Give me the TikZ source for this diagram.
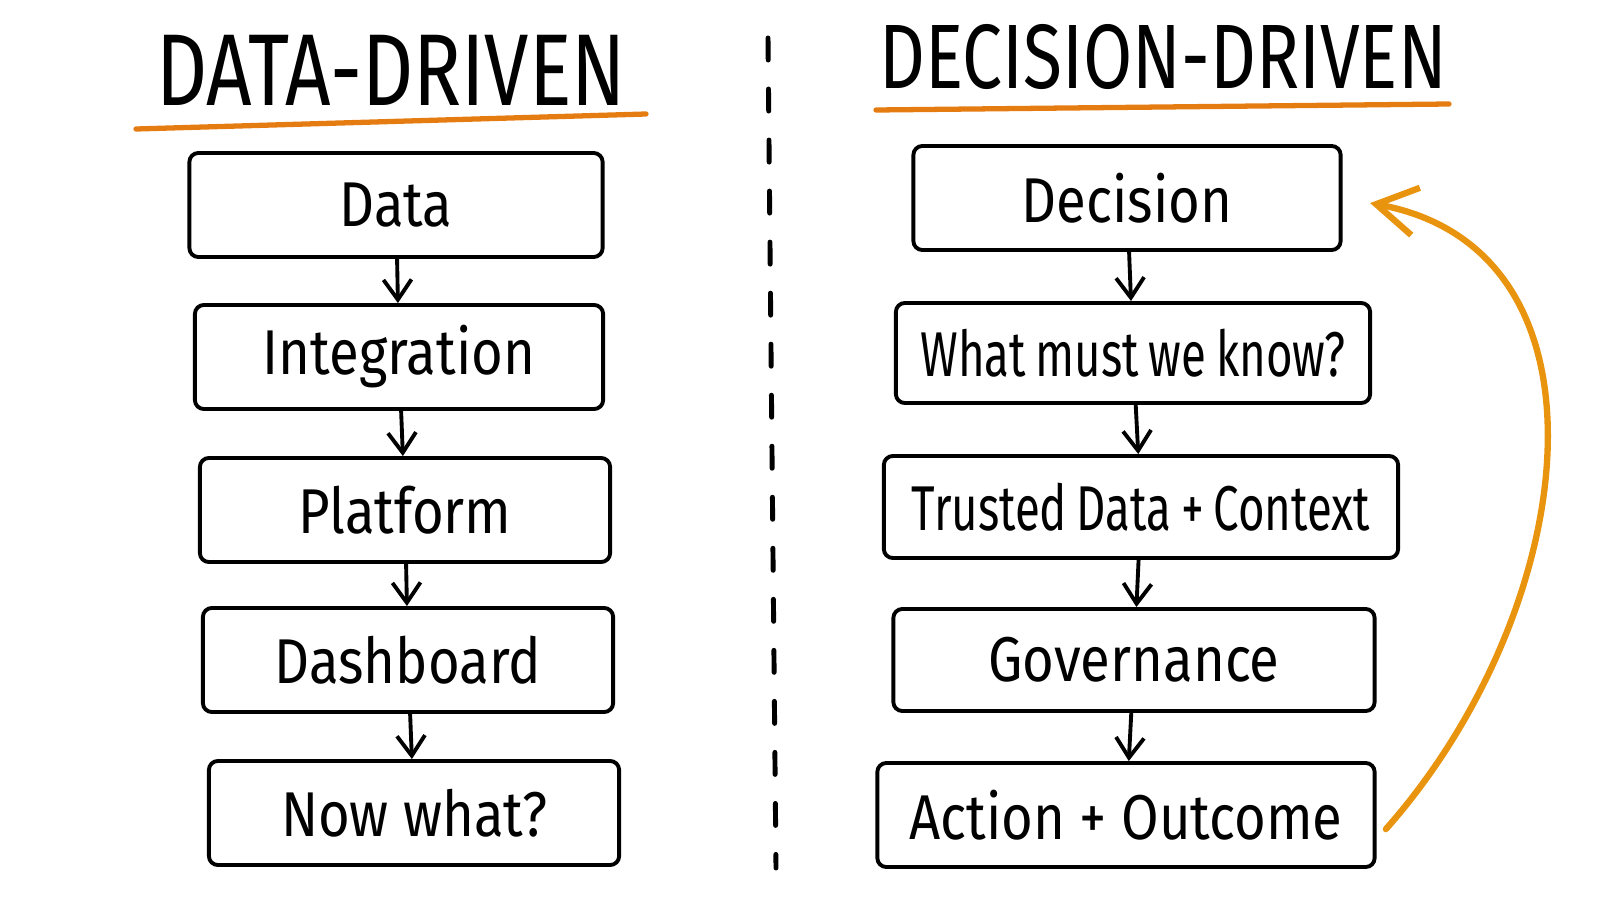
\documentclass[tikz,border=0pt]{standalone}
\usepackage{fontspec}
\setmainfont[FakeStretch=0.86]{Fira Sans}
\newfontfamily\narrowfont[FakeStretch=0.72, WordSpace=0.8]{Fira Sans}
\newfontfamily\titlefont[FakeStretch=0.78]{Fira Sans}
\usetikzlibrary{arrows.meta}

\definecolor{marker}{HTML}{E57C12}
\definecolor{curve}{HTML}{E8940F}

\begin{document}
\begin{tikzpicture}[
    x=0.01cm, y=-0.01cm,
    stage/.style={draw, line width=1.1pt, rounded corners=0.9mm,
        minimum height=1.04cm, inner sep=0pt,
        font=\fontsize{18}{20}\selectfont},
    heading/.style={font=\titlefont\fontsize{29}{34}\selectfont},
    underline/.style={marker, line width=1.5pt, line cap=round},
    flow/.style={line width=1.1pt, -{Straight Barb[length=2mm,width=2.8mm]}},
    feedback/.style={curve, line width=1.8pt, line cap=round,
        -{Straight Barb[length=4mm,width=4.8mm]}}
]
\useasboundingbox (0,0) rectangle (1600,912);

% =========================
% DATA-DRIVEN
% =========================
\node[heading] (t1) at (391,70) {DATA-DRIVEN};
\draw[underline] (136,129) -- (646,114);

\node[stage, minimum width=4.13cm] (l1) at (396,205) {Data};
\node[stage, minimum width=4.08cm] (l2) at (399,357) {Integration};
\node[stage, minimum width=4.10cm] (l3) at (405,510) {Platform};
\node[stage, minimum width=4.10cm] (l4) at (408,660) {Dashboard};
\node[stage, minimum width=4.10cm] (l5) at (414,813) {Now what?};

\foreach \a/\b in {l1/l2, l2/l3, l3/l4, l4/l5}
    \draw[flow] (\a) -- (\b);

% =========================
% DIVIDER
% =========================
\draw[line width=1.4pt, line cap=round, dash pattern=on 2.2mm off 2.9mm]
    (768,38) -- (776,868);

% =========================
% DECISION-DRIVEN
% =========================
\node[heading, font=\titlefont\fontsize{26}{30}\selectfont] (t2) at (1163,57) {DECISION-DRIVEN};
\draw[underline] (876,110) -- (1449,104);

\node[stage, minimum width=4.27cm] (r1) at (1127,198) {Decision};
\node[stage, minimum width=4.74cm, minimum height=1.0cm] (r2) at (1133,353) {\narrowfont What must we know?};
\node[stage, minimum width=5.14cm, minimum height=1.02cm] (r3) at (1141,507) {\narrowfont Trusted Data + Context};
\node[stage, minimum width=4.81cm, minimum height=1.02cm] (r4) at (1134,660) {Governance};
\node[stage, minimum width=4.97cm] (r5) at (1126,815) {Action + Outcome};

\foreach \a/\b in {r1/r2, r2/r3, r3/r4, r4/r5}
    \draw[flow] (\a) -- (\b);

% loop back to the decision
\draw[feedback, shorten <=1.4mm, shorten >=2.8mm]
    ([yshift=-7]r5.east) .. controls (1580,610) and (1625,250) .. (r1.east);
\end{tikzpicture}
\end{document}
